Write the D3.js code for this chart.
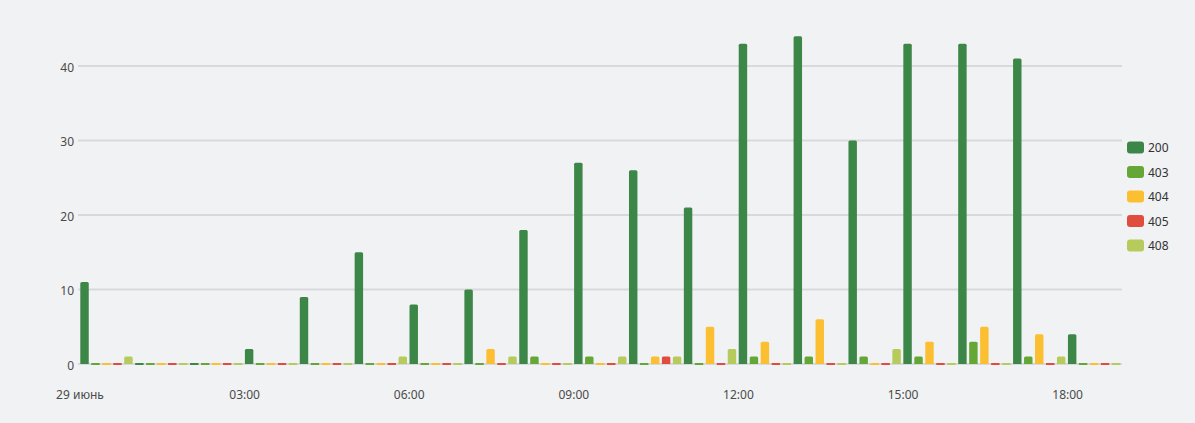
<!DOCTYPE html>
<html>
<head>
<meta charset="utf-8">
<script src="https://cdn.jsdelivr.net/npm/d3@7"></script>
<style>
  html, body { margin: 0; padding: 0; background: #f1f2f4; }
  svg { display: block; }
  text { font-family: "Noto Sans", "Open Sans", sans-serif; }
</style>
</head>
<body>
<svg id="chart" width="1195" height="423"></svg>
<script>
// ---- data ----
const hours = [0,1,2,3,4,5,6,7,8,9,10,11,12,13,14,15,16,17,18];
const seriesNames = ["200", "403", "404", "405", "408"];
const s200 = [11,0,0,2,9,15,8,10,18,27,26,21,43,44,30,43,43,41,4];
const s403 = [0,0,0,0,0,0,0,0,1,1,0,0,1,1,1,1,3,1,0];
const s404 = [0,0,0,0,0,0,0,2,0,0,1,5,3,6,0,3,5,4,0];
const s405 = [0,0,0,0,0,0,0,0,0,0,1,0,0,0,0,0,0,0,0];
const s408 = [1,0,0,0,0,1,0,1,0,1,1,2,0,0,2,0,0,1,0];
const colors = ["#3c8747", "#64a737", "#fbbf31", "#e04c3e", "#b7ca5c"];
const yTicks = [0, 10, 20, 30, 40];
const xTickHours = [0, 3, 6, 9, 12, 15, 18];
const firstDayLabel = "29 июнь";

const seriesValues = [s200, s403, s404, s405, s408];
const day = new Date(2023, 5, 29, 0, 0, 0);
const t = h => new Date(day.getTime() + h * 3600 * 1000);

const svg = d3.select("#chart");

const x = d3.scaleTime().domain([t(0), t(19)]).range([80, 1122.5]);
const y = d3.scaleLinear().domain([0, 44]).range([364, 36.2]);
const hourW = x(t(1)) - x(t(0));
const slot = hourW / 5;
const barW = slot * 0.77;

// grid lines
svg.append("g").selectAll("line").data(yTicks).join("line")
  .attr("x1", 78).attr("x2", 1122)
  .attr("y1", d => y(d)).attr("y2", d => y(d))
  .attr("stroke", "#d8d9dc").attr("stroke-width", 2);

// y axis labels
const yAxis = d3.axisLeft(y).tickValues(yTicks).tickSize(0).tickPadding(0);
const gy = svg.append("g").attr("transform", "translate(74,1.2)").call(yAxis);
gy.select(".domain").remove();
gy.selectAll("text").attr("font-size", 12).attr("fill", "#4a4a4a")
  .attr("font-family", "'Noto Sans', 'Open Sans', sans-serif");

// x axis labels
const xAxis = d3.axisBottom(x).tickValues(xTickHours.map(t)).tickSize(0).tickPadding(0)
  .tickFormat(d => d.getHours() === 0 ? firstDayLabel : d3.timeFormat("%H:%M")(d));
const gx = svg.append("g").attr("transform", "translate(-0.5,390)").call(xAxis);
gx.select(".domain").remove();
gx.selectAll("text").attr("font-size", 12).attr("fill", "#4a4a4a")
  .attr("font-family", "'Noto Sans', 'Open Sans', sans-serif");

// bars
const barData = [];
seriesValues.forEach((vals, si) => {
  vals.forEach((v, i) => barData.push({ si, h: hours[i], v }));
});

svg.append("g").selectAll("path").data(barData).join("path")
  .attr("fill", d => colors[d.si])
  .attr("d", d => {
    const x0 = x(t(d.h)) + d.si * slot + 0.3;
    if (d.v === 0) {
      return `M${x0},${y(0) - 1}h${barW}v2h${-barW}Z`;
    }
    const top = y(d.v), bot = y(0);
    const r = 1.5;
    return `M${x0},${bot}V${top + r}Q${x0},${top} ${x0 + r},${top}H${x0 + barW - r}Q${x0 + barW},${top} ${x0 + barW},${top + r}V${bot}Z`;
  });

// legend
const lg = svg.append("g").attr("transform", "translate(1127,147.5)");
const items = lg.selectAll("g").data(seriesNames).join("g")
  .attr("transform", (d, i) => `translate(0,${i * 24.5})`);
items.append("rect").attr("x", 0).attr("y", -6).attr("width", 17).attr("height", 12)
  .attr("rx", 3).attr("fill", (d, i) => colors[i]);
items.append("text").attr("x", 21).attr("y", 0.5).attr("dy", "0.35em")
  .attr("font-size", 12).attr("fill", "#333").text(d => d);
</script>
</body>
</html>
